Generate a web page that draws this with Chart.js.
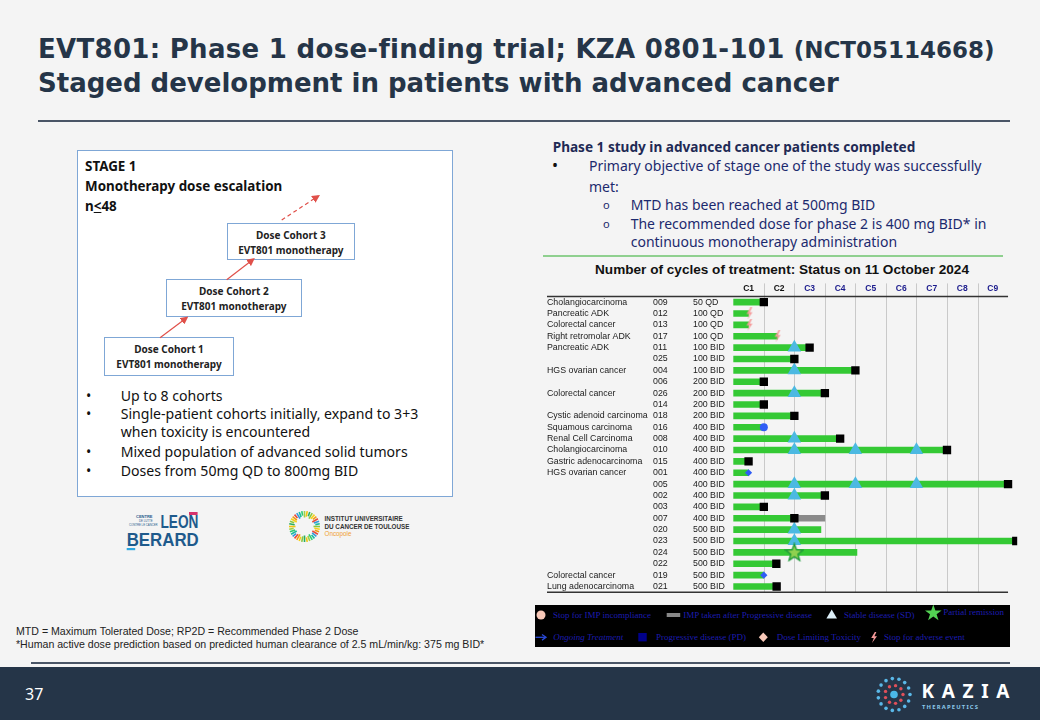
<!DOCTYPE html>
<html>
<head>
<meta charset="utf-8">
<script src="https://cdn.jsdelivr.net/npm/chart.js@4.4.1/dist/chart.umd.min.js"></script>
<style>
  html, body { margin: 0; padding: 0; }
  body { width: 1040px; height: 720px; overflow: hidden; background: #f4f4f4; position: relative; font-family: "Noto Sans", "DejaVu Sans", sans-serif; }
  .abs { position: absolute; white-space: nowrap; }
  .title { color: #253548; font-family: "DejaVu Sans", Verdana, sans-serif; font-weight: 700; font-size: 26px; line-height: 26px; left: 38px; }
  .rule { position: absolute; background: #4a5566; }
  .box { position: absolute; background: #fff; border: 1.5px solid #7fa7d6; box-sizing: border-box; }
  .cohort { position: absolute; background: #fff; border: 1px solid #7fa7d6; box-sizing: border-box; text-align: center; font-weight: 700; font-size: 10px; color: #222; }
  .stage { font-weight: 700; font-size: 13.4px; line-height: 20px; color: #111; }
  .bul { font-size: 14.1px; line-height: 19px; color: #111; }
  .rt { font-size: 14px; line-height: 19px; color: #1c2a6e; }
  .foot { font-family: "Liberation Sans", Arial, sans-serif; font-size: 10.6px; line-height: 13px; color: #222; }
  .legend { position: absolute; left: 535px; top: 605px; width: 475px; height: 42px; background: #000; }
  .lg { position: absolute; font-family: "Liberation Serif", "Times New Roman", serif; font-size: 9px; line-height: 11px; color: #1c1cb0; white-space: nowrap; }
</style>
</head>
<body>
<!-- Title -->
<div class="abs title" style="top:36.3px;"><span style="letter-spacing:0.3px;">EVT801: Phase 1 dose-finding trial; KZA 0801-101</span> <span style="font-size:23px;">(NCT05114668)</span></div>
<div class="abs title" style="top:69.7px;">Staged development in patients with advanced cancer</div>
<div class="rule" style="left:38px; top:120px; width:972px; height:2px;"></div>

<!-- Left stage box -->
<div class="box" style="left:77px; top:150px; width:376px; height:347px;"></div>
<div class="abs stage" style="left:85px; top:156px;">STAGE 1</div>
<div class="abs stage" style="left:85px; top:176px;">Monotherapy dose escalation</div>
<div class="abs stage" style="left:85px; top:196px;">n<u>&lt;</u>48</div>

<div class="cohort" style="left:226.7px; top:222.7px; width:128.3px; height:37.3px;"><div style="margin-top:4px; line-height:15px;">Dose Cohort 3<br>EVT801 monotherapy</div></div>
<div class="cohort" style="left:165.7px; top:278.7px; width:136.3px; height:38px;"><div style="margin-top:4px; line-height:15px;">Dose Cohort 2<br>EVT801 monotherapy</div></div>
<div class="cohort" style="left:104.3px; top:337.3px; width:129.4px; height:38.4px;"><div style="margin-top:4px; line-height:15px;">Dose Cohort 1<br>EVT801 monotherapy</div></div>

<svg class="abs" style="left:0; top:0;" width="1040" height="720" viewBox="0 0 1040 720">
  <defs>
    <marker id="ah" markerWidth="8" markerHeight="8" refX="6" refY="4" orient="auto" markerUnits="userSpaceOnUse">
      <path d="M0,0 L8,4 L0,8 z" fill="#e0504a"/>
    </marker>
  </defs>
  <line x1="160" y1="337.7" x2="186.7" y2="317.7" stroke="#e0504a" stroke-width="1.2" marker-end="url(#ah)"/>
  <line x1="226.7" y1="279.7" x2="253.3" y2="259.3" stroke="#e0504a" stroke-width="1.2" marker-end="url(#ah)"/>
  <line x1="281.7" y1="220" x2="318.3" y2="196" stroke="#e0504a" stroke-width="1.2" stroke-dasharray="4,3" marker-end="url(#ah)"/>
</svg>

<div class="abs bul" style="left:86px; top:385.5px;">•</div>
<div class="abs bul" style="left:120.7px; top:385.5px;">Up to 8 cohorts</div>
<div class="abs bul" style="left:86px; top:403.8px;">•</div>
<div class="abs bul" style="left:120.7px; top:403.8px;">Single-patient cohorts initially, expand to 3+3</div>
<div class="abs bul" style="left:120.7px; top:422.2px;">when toxicity is encountered</div>
<div class="abs bul" style="left:86px; top:441.5px;">•</div>
<div class="abs bul" style="left:120.7px; top:441.5px;">Mixed population of advanced solid tumors</div>
<div class="abs bul" style="left:86px; top:460.5px;">•</div>
<div class="abs bul" style="left:120.7px; top:460.5px;">Doses from 50mg QD to 800mg BID</div>

<!-- Logos -->
<svg class="abs" style="left:120px; top:505px;" width="90" height="50" viewBox="120 505 90 50">
  <rect x="189" y="512" width="8.6" height="3" fill="#d6336c"/>
  <text x="136" y="518" font-family="Liberation Sans, Arial" font-size="4" font-weight="700" fill="#1e5a8c">CENTRE</text>
  <text x="139" y="522" font-family="Liberation Sans, Arial" font-size="2.8" fill="#1e5a8c">DE LUTTE</text>
  <text x="129" y="526" font-family="Liberation Sans, Arial" font-size="2.8" fill="#1e5a8c">CONTRE LE CANCER</text>
  <text x="160.5" y="528" font-family="Liberation Sans, Arial" font-size="17.5" font-weight="700" fill="#1e5a8c" textLength="38" lengthAdjust="spacingAndGlyphs">LEON</text>
  <text x="126.7" y="545.5" font-family="Liberation Sans, Arial" font-size="18.5" font-weight="700" fill="#1e5a8c" textLength="72" lengthAdjust="spacingAndGlyphs">BERARD</text>
  <rect x="126.7" y="548" width="8.5" height="2.2" fill="#2fa8e0"/>
</svg>
<svg class="abs" style="left:285px; top:505px;" width="160" height="45" viewBox="285 505 160 45" id="oncoLogo">
  <text x="324.5" y="521" font-family="Liberation Sans, Arial" font-size="6.3" font-weight="700" fill="#333">INSTITUT UNIVERSITAIRE</text>
  <text x="324.5" y="528.5" font-family="Liberation Sans, Arial" font-size="6.3" font-weight="700" fill="#333">DU CANCER DE TOULOUSE</text>
  <text x="324.5" y="536" font-family="Liberation Sans, Arial" font-size="6.3" fill="#f0a030">Oncopole</text>
</svg>

<!-- Right text -->
<div class="abs rt" style="left:552.7px; top:137px; font-weight:700; font-size:13.6px; color:#1f2a55;">Phase 1 study in advanced cancer patients completed</div>
<div class="abs rt" style="left:552px; top:156px; color:#111; font-size:16px;">•</div>
<div class="abs rt" style="left:589px; top:156px;">Primary objective of stage one of the study was successfully</div>
<div class="abs rt" style="left:589px; top:176.5px;">met:</div>
<div class="abs rt" style="left:603px; top:195px; font-size:11px;">o</div>
<div class="abs rt" style="left:630.7px; top:195px;">MTD has been reached at 500mg BID</div>
<div class="abs rt" style="left:603px; top:213.8px; font-size:11px;">o</div>
<div class="abs rt" style="left:630.7px; top:213.8px;">The recommended dose for phase 2 is 400 mg BID* in</div>
<div class="abs rt" style="left:630.7px; top:231.5px;">continuous monotherapy administration</div>
<div class="rule" style="left:543px; top:255px; width:460px; height:1.5px; background:#8fd08f;"></div>

<!-- Chart title -->
<div class="abs" style="left:535px; width:494px; top:262px; text-align:center; font-family:'Liberation Sans', Arial, sans-serif; font-weight:700; font-size:13.6px; line-height:16px; color:#111;">Number of cycles of treatment: Status on 11 October 2024</div>

<div class="abs" style="left:535px; top:276px; width:490px; height:324px;">
  <canvas id="swimmer" width="490" height="324"></canvas>
</div>

<!-- Legend -->
<div class="legend"></div>
<svg class="abs" style="left:535px; top:605px;" width="475" height="42" viewBox="535 605 475 42">
  <circle cx="541" cy="615" r="4.5" fill="#f8c8b8"/>
  <rect x="666.7" y="613" width="13.5" height="4" fill="#888"/>
  <path d="M831.7,609.5 L837,618.5 L826.4,618.5 Z" fill="#dceff8"/>
  <path d="M933.3,604.5 L935.4,610.4 L941.6,610.4 L936.6,614.2 L938.5,620.2 L933.3,616.6 L928.1,620.2 L930,614.2 L925,610.4 L931.2,610.4 Z" fill="#52d152"/>
  <line x1="535.5" y1="637.3" x2="545" y2="637.3" stroke="#2a4ad8" stroke-width="1.3"/>
  <path d="M542,634.5 L546,637.3 L542,640.1" fill="none" stroke="#2a4ad8" stroke-width="1.3"/>
  <rect x="638.3" y="633" width="8.4" height="8.4" fill="#00008b"/>
  <path d="M763.3,632.5 L767.8,637.3 L763.3,642.1 L758.8,637.3 Z" fill="#f8c8b8"/>
  <path d="M874.8,632 L871.2,638 L873.8,638 L872,643 L877,636.2 L874.4,636.2 L876.4,632 Z" fill="#f59a9a"/>
</svg>
<div class="lg" style="left:553px; top:609.5px;">Stop for IMP incompliance</div>
<div class="lg" style="left:683.3px; top:609.5px;">IMP taken after Progressive disease</div>
<div class="lg" style="left:844px; top:609.5px;">Stable disease (SD)</div>
<div class="lg" style="left:943.3px; top:606.5px;">Partial remission</div>
<div class="lg" style="left:553.3px; top:631.8px; font-style:italic;">Ongoing Treatment</div>
<div class="lg" style="left:656px; top:631.8px;">Progressive disease (PD)</div>
<div class="lg" style="left:776.7px; top:631.8px;">Dose Limiting Toxicity</div>
<div class="lg" style="left:884px; top:631.8px;">Stop for adverse event</div>

<!-- Footnotes -->
<div class="abs foot" style="left:16px; top:625px;">MTD = Maximum Tolerated Dose; RP2D = Recommended Phase 2 Dose</div>
<div class="abs foot" style="left:16px; top:637.5px;">*Human active dose prediction based on predicted human clearance of 2.5 mL/min/kg: 375 mg BID*</div>

<div class="rule" style="left:31px; top:662px; width:979px; height:2px;"></div>
<div class="abs" style="left:0; top:667px; width:1040px; height:53px; background:#253548;"></div>
<div class="abs" style="left:25px; top:684px; font-size:16px; line-height:20px; color:#fff;">37</div>
<svg class="abs" style="left:860px; top:670px;" width="180" height="50" viewBox="860 670 180 50" id="kaziaLogo">
  <text x="921.5" y="698" font-family="Noto Sans, sans-serif" font-size="19" font-weight="700" fill="#fff" textLength="88" lengthAdjust="spacing">KAZIA</text>
  <text x="922" y="708.5" font-family="Noto Sans, sans-serif" font-size="5.8" font-weight="700" fill="#8cc8e8" textLength="56" lengthAdjust="spacing">THERAPEUTICS</text>
</svg>

<script>
// ---------- Data ----------
const patientIds = ['009','012','013','017','011','025','004','006','026','014','018','016','008','010','015','001','005','002','003','007','020','023','024','022','019','021'];
const tumorTypes = ['Cholangiocarcinoma','Pancreatic ADK','Colorectal cancer','Right retromolar ADK','Pancreatic ADK','','HGS ovarian cancer','','Colorectal cancer','','Cystic adenoid carcinoma','Squamous carcinoma','Renal Cell Carcinoma','Cholangiocarcinoma','Gastric adenocarcinoma','HGS ovarian cancer','','','','','','','','','Colorectal cancer','Lung adenocarcinoma'];
const doseLevels = ['50 QD','100 QD','100 QD','100 QD','100 BID','100 BID','100 BID','200 BID','200 BID','200 BID','200 BID','400 BID','400 BID','400 BID','400 BID','400 BID','400 BID','400 BID','400 BID','400 BID','500 BID','500 BID','500 BID','500 BID','500 BID','500 BID'];
const treatmentCycles = [1.0,0.5,0.5,1.45,2.5,2.0,4.0,1.0,3.0,1.0,2.0,1.0,3.5,7.0,0.5,0.5,9.0,3.0,1.0,2.0,2.87,9.27,4.05,1.41,1.0,1.42];
const cycleLabels = ['C1','C2','C3','C4','C5','C6','C7','C8','C9'];

const impAfterPdIds = ['007'];
const impAfterPdFrom = [2.0];
const impAfterPdTo = [3.0];

const pdIds = ['009','011','025','004','006','026','014','018','008','010','015','005','002','003','007','023','022','021'];
const pdCycles = [1.0,2.5,2.0,4.0,1.0,3.0,1.0,2.0,3.5,7.0,0.5,9.0,3.0,1.0,2.0,9.27,1.41,1.42];

const sdIds = ['011','004','026','008','010','010','010','005','005','005','002','020','023'];
const sdCycles = [2,2,2,2,2,4,6,2,4,6,2,2,2];

const prIds = ['024'];
const prCycles = [2.0];

const aeIds = ['012','013','017'];
const aeCycles = [0.53,0.53,1.45];

const circleIds = ['016'];
const circleCycles = [1.0];

const diamondIds = ['001','019'];
const diamondCycles = [0.5,1.0];

// ---------- marker images ----------
function makeStar() {
  const c = document.createElement('canvas'); c.width = 20; c.height = 20;
  const g = c.getContext('2d');
  g.beginPath();
  for (let i = 0; i < 10; i++) {
    const r = i % 2 === 0 ? 9 : 3.8;
    const a = -Math.PI / 2 + i * Math.PI / 5;
    const px = 10 + r * Math.cos(a), py = 10.5 + r * Math.sin(a);
    if (i === 0) g.moveTo(px, py); else g.lineTo(px, py);
  }
  g.closePath();
  g.fillStyle = '#8fd14f'; g.fill();
  g.lineWidth = 1.4; g.strokeStyle = '#1f9a3a'; g.stroke();
  return c;
}
function makeBolt() {
  const c = document.createElement('canvas'); c.width = 8; c.height = 12;
  const g = c.getContext('2d');
  g.beginPath();
  g.moveTo(5, 0); g.lineTo(1, 6.5); g.lineTo(4, 6.5); g.lineTo(2, 12);
  g.lineTo(7, 4.8); g.lineTo(4.3, 4.8); g.lineTo(6.6, 0); g.closePath();
  g.fillStyle = '#f59a9a'; g.fill();
  return c;
}
const starImg = makeStar();
const boltImg = makeBolt();

function pts(ids, cycles) { return ids.map((id, i) => ({ x: cycles[i], y: id })); }

// ---------- plugins: grid, rules, row labels ----------
const swimmerDecor = {
  id: 'swimmerDecor',
  beforeDatasetsDraw(chart) {
    const { ctx, chartArea, scales } = chart;
    const xs = scales.x;
    ctx.save();
    ctx.strokeStyle = '#c9c9c9'; ctx.lineWidth = 1;
    for (let i = 1; i < cycleLabels.length; i++) {
      const px = Math.round(xs.getPixelForValue(i)) + 0.5;
      ctx.beginPath(); ctx.moveTo(px, chartArea.top - 13); ctx.lineTo(px, chartArea.bottom); ctx.stroke();
    }
    const xEnd = xs.getPixelForValue(cycleLabels.length);
    ctx.strokeStyle = '#333'; ctx.lineWidth = 1.5;
    ctx.beginPath(); ctx.moveTo(12, chartArea.top); ctx.lineTo(xEnd, chartArea.top); ctx.stroke();
    ctx.beginPath(); ctx.moveTo(12, chartArea.bottom); ctx.lineTo(xEnd, chartArea.bottom); ctx.stroke();
    ctx.restore();
  },
  afterDraw(chart) {
    const { ctx, scales } = chart;
    const ys = scales.y;
    ctx.save();
    ctx.font = '8.8px "Liberation Sans", Arial, sans-serif';
    ctx.fillStyle = '#1a1a1a';
    ctx.textBaseline = 'middle';
    patientIds.forEach((id, i) => {
      const py = ys.getPixelForValue(i);
      if (tumorTypes[i]) ctx.fillText(tumorTypes[i], 12, py);
      ctx.fillText(id, 118, py);
      ctx.fillText(doseLevels[i], 158, py);
    });
    ctx.restore();
  }
};

const ctx = document.getElementById('swimmer').getContext('2d');
new Chart(ctx, {
  type: 'bar',
  data: {
    labels: patientIds,
    datasets: [
      {
        type: 'bar', label: 'Treatment', order: 10, grouped: false,
        data: treatmentCycles.map(v => [0, v]),
        backgroundColor: '#34c934', barThickness: 6, borderWidth: 0
      },
      {
        type: 'bar', label: 'IMP taken after Progressive disease', order: 9, grouped: false,
        data: patientIds.map(id => { const k = impAfterPdIds.indexOf(id); return k < 0 ? null : [impAfterPdFrom[k], impAfterPdTo[k]]; }),
        backgroundColor: '#8a8a8a', barThickness: 6, borderWidth: 0
      },
      {
        type: 'scatter', label: 'Stable disease (SD)', order: 3,
        data: pts(sdIds, sdCycles), pointStyle: 'triangle', pointRadius: 7.8,
        backgroundColor: '#4cb9e2', borderColor: '#4cb9e2', borderWidth: 0
      },
      {
        type: 'scatter', label: 'Progressive disease (PD)', order: 2,
        data: pts(pdIds, pdCycles), pointStyle: 'rect', pointRadius: 5.9,
        backgroundColor: '#000', borderColor: '#000', borderWidth: 0
      },
      {
        type: 'scatter', label: 'Partial remission', order: 1,
        data: pts(prIds, prCycles), pointStyle: starImg
      },
      {
        type: 'scatter', label: 'Stop for adverse event', order: 1,
        data: pts(aeIds, aeCycles), pointStyle: boltImg
      },
      {
        type: 'scatter', label: 'Ongoing', order: 1,
        data: pts(circleIds, circleCycles), pointStyle: 'circle', pointRadius: 4,
        backgroundColor: '#2f5df5', borderWidth: 0
      },
      {
        type: 'scatter', label: 'Diamond', order: 1,
        data: pts(diamondIds, diamondCycles), pointStyle: 'rectRot', pointRadius: 3.6,
        backgroundColor: '#2f5df5', borderWidth: 0
      }
    ]
  },
  options: {
    indexAxis: 'y',
    responsive: false,
    animation: false,
    events: [],
    layout: { padding: { left: 198.3, right: 5.7, top: 4.2, bottom: 3.5 } },
    plugins: { legend: { display: false }, tooltip: { enabled: false }, title: { display: false } },
    scales: {
      x: {
        type: 'linear', position: 'top', min: 0, max: 9.3,
        grid: { display: false, drawTicks: false },
        border: { display: false },
        afterBuildTicks: (scale) => { scale.ticks = cycleLabels.map((_, i) => ({ value: i + 0.5 })); },
        ticks: {
          autoSkip: false, maxRotation: 0, padding: 3,
          font: { family: '"Liberation Sans", Arial, sans-serif', size: 8.5, weight: 'bold' },
          color: (c) => c.index < 2 ? '#111' : '#1a1a8c',
          callback: (v, i) => cycleLabels[i]
        }
      },
      y: {
        type: 'category', display: false, offset: true,
        grid: { display: false }
      }
    }
  },
  plugins: [swimmerDecor]
});

// ---------- Oncopole logo ring ----------
(function () {
  const svg = document.getElementById('oncoLogo');
  const cols = ['#8cc63f','#f7d117','#f39c12','#e74c3c','#3498db','#1abc9c','#2ecc71','#9bd24a','#f1c40f','#27ae60'];
  const cx = 304.5, cy = 526.5, n = 36;
  for (let i = 0; i < n; i++) {
    const a = i * 2 * Math.PI / n;
    const l = document.createElementNS('http://www.w3.org/2000/svg', 'line');
    const r1 = 9 + (i % 3), r2 = 15.5;
    l.setAttribute('x1', cx + r1 * Math.cos(a)); l.setAttribute('y1', cy + r1 * Math.sin(a));
    l.setAttribute('x2', cx + r2 * Math.cos(a)); l.setAttribute('y2', cy + r2 * Math.sin(a));
    l.setAttribute('stroke', cols[i % cols.length]); l.setAttribute('stroke-width', '1.6');
    svg.appendChild(l);
  }
  // KAZIA dots
  const k = document.getElementById('kaziaLogo');
  function dot(x, y, r, c) {
    const e = document.createElementNS('http://www.w3.org/2000/svg', 'circle');
    e.setAttribute('cx', x); e.setAttribute('cy', y); e.setAttribute('r', r); e.setAttribute('fill', c);
    k.appendChild(e);
  }
  const kx = 894, ky = 694.5;
  dot(kx, ky, 3.8, '#4ab8e8');
  for (let i = 0; i < 9; i++) { const a = i * 2 * Math.PI / 9; dot(kx + 9 * Math.cos(a), ky + 9 * Math.sin(a), 1.7, '#e0505a'); }
  for (let i = 0; i < 15; i++) { const a = i * 2 * Math.PI / 15; dot(kx + 16 * Math.cos(a), ky + 16 * Math.sin(a), 1.8, '#5ab8e8'); }
})();
</script>
</body>
</html>
